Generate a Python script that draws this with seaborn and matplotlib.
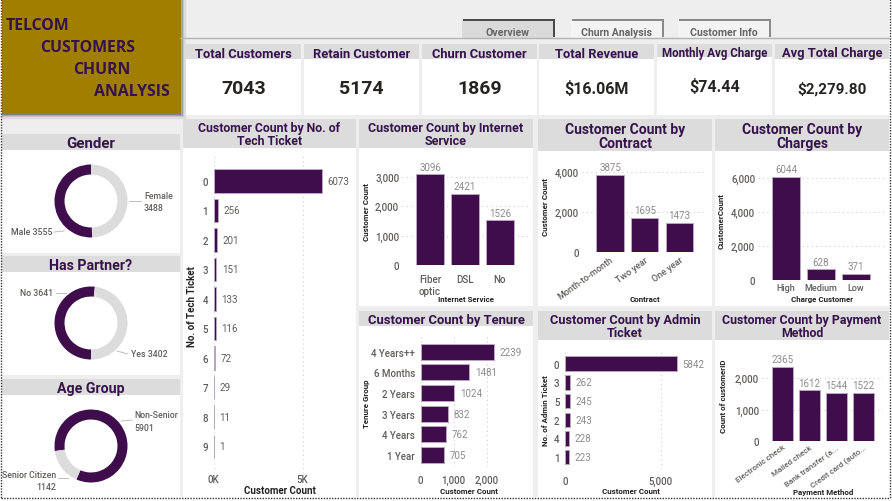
import matplotlib
matplotlib.use("Agg")
import matplotlib.pyplot as plt
import seaborn as sns
from matplotlib.patches import Rectangle

# data
kpi_titles = ["Total Customers", "Retain Customer", "Churn Customer", "Total Revenue", "Monthly Avg Charge", "Avg Total Charge"]
kpi_values = ["7043", "5174", "1869", "$16.06M", "$74.44", "$2,279.80"]
tabs = ["Overview", "Churn Analysis", "Customer Info"]

gender_labels = ["Female", "Male"]
gender_values = [3488, 3555]
partner_labels = ["No", "Yes"]
partner_values = [3641, 3402]
age_labels = ["Non-Senior", "Senior Citizen"]
age_values = [5901, 1142]

tech_tickets = ["0", "1", "2", "3", "4", "5", "6", "7", "8", "9"]
tech_counts = [6073, 256, 201, 151, 133, 116, 72, 29, 11, 1]
internet_types = ["Fiber\noptic", "DSL", "No"]
internet_counts = [3096, 2421, 1526]
contract_types = ["Month-to-month", "Two year", "One year"]
contract_counts = [3875, 1695, 1473]
charge_groups = ["High", "Medium", "Low"]
charge_counts = [6044, 628, 371]
tenure_groups = ["4 Years++", "6 Months", "2 Years", "3 Years", "4 Years", "1 Year"]
tenure_counts = [2239, 1481, 1024, 832, 762, 705]
admin_tickets = ["0", "3", "5", "2", "4", "1"]
admin_counts = [5842, 262, 245, 243, 228, 223]
payment_methods = ["Electronic check", "Mailed check", "Bank transfer (a...", "Credit card (auto..."]
payment_counts = [2365, 1612, 1544, 1522]

W, H = 892, 502
PURPLE = "#3F0D4C"
EDGE = "#B9A6BF"
HEADER = "#DCDCDC"
PAGE = "#EEEEEE"
TITLE = "#35124A"
TICK = "#605E5C"
VALUE = "#8C8C8C"
GRID = "#D0D0D0"
FONT = ["Roboto", "DejaVu Sans"]

sns.set_theme(style="white")
plt.rcParams["font.family"] = FONT

fig = plt.figure(figsize=(W / 100, H / 100), dpi=100, facecolor="white")
bg = fig.add_axes([0, 0, 1, 1], zorder=-1)
bg.set_xlim(0, W)
bg.set_ylim(H, 0)
bg.axis("off")


def box(x0, y0, x1, y1, color, **kw):
    bg.add_patch(Rectangle((x0, y0), x1 - x0, y1 - y0, color=color, lw=0, **kw))


def px_axes(x0, y0, x1, y1):
    ax = fig.add_axes([x0 / W, 1 - y1 / H, (x1 - x0) / W, (y1 - y0) / H])
    ax.patch.set_visible(False)
    return ax


def panel(x0, y0, x1, head_bottom, y1, title, size=10.2):
    box(x0, y0, x1, y1, "white")
    box(x0, y0, x1, head_bottom, HEADER)
    bg.text((x0 + x1) / 2, (y0 + head_bottom) / 2 + 1, title, ha="center", va="center",
            fontsize=size, fontweight="bold", color=TITLE, linespacing=1.0)


def clean(ax, tick_size=7):
    sns.despine(ax=ax, left=True, bottom=True)
    ax.tick_params(length=0, pad=2, labelsize=tick_size, labelcolor=TICK)
    for t in ax.get_xticklabels() + ax.get_yticklabels():
        t.set_fontweight("medium")


def vbars(cats, vals, x0, x1, c0, step, base, per_unit, ytop, ticks, xlab, ylab, xlab_pos, ylab_pos,
          rot=0, xpad=2, cat_size=7):
    ax = px_axes(x0, ytop, x1, base)
    sns.barplot(x=cats, y=vals, ax=ax, color=PURPLE, saturation=1, width=0.78, edgecolor=EDGE, linewidth=0.7)
    ax.set_xlim((x0 - c0) / step, (x1 - c0) / step)
    ax.set_ylim(0, (base - ytop) / per_unit)
    ax.set_yticks(ticks)
    ax.set_yticklabels([f"{t:,}" for t in ticks])
    ax.grid(axis="y", color=GRID, ls=(0, (1, 3)), lw=0.8)
    ax.set_axisbelow(True)
    clean(ax)
    ax.tick_params(axis="x", pad=xpad, labelsize=cat_size)
    ax.bar_label(ax.containers[0], padding=2, fontsize=7, color=VALUE)
    if rot:
        ax.set_xticks(range(len(cats)))
        ax.set_xticklabels(cats, rotation=rot, ha="right", rotation_mode="anchor", fontsize=cat_size)
    ax.set_xlabel(xlab, fontsize=5.7, fontweight="bold", color="#222222")
    ax.set_ylabel(ylab, fontsize=5.7, fontweight="bold", color="#222222")
    ax.xaxis.set_label_coords(*xlab_pos, transform=bg.transData)
    ax.yaxis.set_label_coords(*ylab_pos, transform=bg.transData)
    return ax


def hbars(cats, vals, x1, base, per_unit, c0, step, ytop, ybottom, ticks, ticklabs, xlab, ylab, xlab_pos, ylab_pos,
          lab_size=5.7, xpad=2, val_color=VALUE):
    ax = px_axes(base, ytop, x1, ybottom)
    sns.barplot(x=vals, y=cats, ax=ax, color=PURPLE, saturation=1, width=0.78, edgecolor=EDGE, linewidth=0.7, orient="h")
    ax.set_xlim(0, (x1 - base) / per_unit)
    ax.set_ylim((ybottom - c0) / step, (ytop - c0) / step)
    ax.set_xticks(ticks)
    ax.set_xticklabels(ticklabs)
    ax.grid(axis="x", color=GRID, ls=(0, (1, 3)), lw=0.8)
    ax.set_axisbelow(True)
    clean(ax)
    ax.tick_params(axis="y", pad=4)
    ax.tick_params(axis="x", pad=xpad)
    ax.bar_label(ax.containers[0], padding=4, fontsize=7, color=val_color)
    ax.set_xlabel(xlab, fontsize=lab_size, fontweight="bold", color="#222222")
    ax.set_ylabel(ylab, fontsize=lab_size, fontweight="bold", color="#222222")
    ax.xaxis.set_label_coords(*xlab_pos, transform=bg.transData)
    ax.yaxis.set_label_coords(*ylab_pos, transform=bg.transData)
    return ax


def donut(cx, cy, values, colors, start):
    r = 36.5
    ax = px_axes(cx - r, cy - r, cx + r, cy + r)
    ax.pie(values, colors=colors, startangle=start, counterclock=False, radius=1,
           wedgeprops={"width": 0.275, "linewidth": 0})
    ax.set_xlim(-1, 1)
    ax.set_ylim(-1, 1)


def note(x, y, text, ha="left", line=None):
    bg.text(x, y, text, fontsize=6.3, color=TICK, ha=ha, va="center", linespacing=1.45, fontweight="medium")
    if line:
        bg.plot(line[0], line[1], color="#BDBDBD", lw=0.7)


# page, top strip and logo
box(2, 0, 889, 498, PAGE)
bg.plot([180, 889], [38.5, 38.5], color="#B4B4B4", lw=1)
for i, a in enumerate([0.22, 0.16, 0.10, 0.05, 0.02]):
    box(2, 0, 181 + i * 1.6, 116 + i * 1.2, "black", alpha=a)
box(2, 0, 180.5, 115, "#A07F00")
logo_font = {"fontsize": 11.4, "fontweight": "bold", "color": TITLE, "va": "center", "family": "Open Sans"}
bg.text(6, 26.5, "TELCOM", **logo_font)
bg.text(40, 48.5, "CUSTOMERS", **logo_font)
bg.text(73, 70.5, "CHURN", **logo_font)
bg.text(94, 92, "ANALYSIS", **logo_font)

# tabs, shadow only on the top and right edges
tab_x = [(462, 553), (571, 662), (678, 769)]
for i, ((x0, x1), name) in enumerate(zip(tab_x, tabs)):
    box(x0 + 1, 20, x1 + 2, 38, "#4A4A4A" if i == 0 else "#8A8A8A")
    box(x0, 22, x1, 40, "#DADADA" if i == 0 else "#F3F3F3")
    bg.text((x0 + x1) / 2, 32.5, name, fontsize=7.6, fontweight="bold", color="#666666", ha="center", va="center")

# KPI cards
kpi_x = [(186, 301), (304, 419), (422, 537), (539, 654), (657, 772), (775, 889)]
kpi_head = [60, 60, 60, 60, 58, 60]
kpi_size = [14, 14, 14, 11.5, 11.5, 11]
for (x0, x1), head, name, value, size in zip(kpi_x, kpi_head, kpi_titles, kpi_values, kpi_size):
    box(x0, 45, x1, 116, "white")
    box(x0, 45, x1, head, HEADER)
    bg.text((x0 + x1) / 2, (45 + head) / 2 + 1.5, name, fontsize=9.3 if head == 60 else 8.3,
            fontweight="bold", color=TITLE, ha="center", va="center")
    bg.text((x0 + x1) / 2, 89.5 if head == 60 else 87.5, value, fontsize=size, fontweight="bold",
            color="#252423", ha="center", va="center")

# panels
panel(2, 135, 180, 151, 254, "Gender", 10.8)
panel(2, 257, 180, 273, 376, "Has Partner?")
panel(2, 380, 180, 396, 498, "Age Group")
panel(183, 120, 356, 149, 498, "Customer Count by No. of\nTech Ticket", 8.8)
panel(359, 120, 533, 149, 307, "Customer Count by Internet\nService", 9)
panel(538, 120, 712, 152, 307, "Customer Count by\nContract", 10)
panel(715, 120, 889, 152, 307, "Customer Count by\nCharges", 10)
panel(359, 312, 533, 327, 498, "Customer Count by Tenure", 9.4)
panel(538, 312, 712, 341, 498, "Customer Count by Admin\nTicket", 9.2)
panel(715, 312, 889, 341, 498, "Customer Count by Payment\nMethod", 8.9)

# donuts
donut(91, 202, gender_values, [HEADER, PURPLE], 90)
donut(91, 324, partner_values, [PURPLE, HEADER], -90)
donut(91, 447, age_values, [PURPLE, HEADER], -172)
note(144, 202.5, f"{gender_labels[0]}\n{gender_values[0]}", line=([129, 141], [202, 202]))
note(11, 233, f"{gender_labels[1]} {gender_values[1]}", line=([54, 64], [233, 232]))
note(20, 294, f"{partner_labels[0]} {partner_values[0]}", line=([56, 66], [294, 294]))
note(131, 355, f"{partner_labels[1]} {partner_values[1]}", line=([117, 128], [352, 355]))
note(134, 422, f"{age_labels[0]}\n{age_values[0]}", line=([121, 132], [422, 421]))
note(56, 476, f"{age_labels[1]}", ha="right", line=([58, 68], [479, 479]))
note(56, 488, f"{age_values[1]}", ha="right")

# bar charts
hbars(tech_tickets, tech_counts, 345, 213.5, 0.0178, 182, 29.5, 155, 474,
      [0, 5000], ["0K", "5K"], "Customer Count", "No. of Tech Ticket", (280, 486.5), (197, 307),
      lab_size=7, xpad=1, val_color=TICK)
vbars(internet_types, internet_counts, 402, 530, 430, 35, 266, 0.0293, 165, [0, 1000, 2000, 3000],
      "Internet Service", "Customer Count", (466, 296.5), (370, 212), xpad=6.5)
vbars(contract_types, contract_counts, 582, 705, 610, 34.8, 253, 0.0199, 165, [0, 2000, 4000],
      "Contract", "Customer Count", (645, 296), (549, 207), rot=36, cat_size=6.5)
vbars(charge_groups, charge_counts, 758, 885, 786, 35, 281, 0.017, 165, [0, 2000, 4000, 6000],
      "Charge Customer", "CustomerCount", (822, 296), (725, 221), cat_size=6.5)
hbars(tenure_groups, tenure_counts, 525, 420.7, 0.0329, 352.7, 20.66, 338, 468,
      [0, 1000, 2000], ["0", "1,000", "2,000"], "Customer Count", "Tenure Group", (469, 488), (370, 404), xpad=6)
hbars(admin_tickets, admin_counts, 705, 565, 0.0191, 364.7, 18.7, 352, 470,
      [0, 5000], ["0", "5,000"], "Customer Count", "No. of Admin Ticket", (631, 488), (549, 411), xpad=5)
vbars(payment_methods, payment_counts, 762, 883, 782.3, 27, 442, 0.0314, 355, [0, 1000, 2000],
      "Payment Method", "Count of customerID", (823, 489.5), (727, 396), rot=36, cat_size=5.8)

# dotted frame of the screenshot
bg.plot([1, 1], [0, 499], color="#333333", lw=1, ls=(0, (1, 1)))
bg.plot([1, 890], [499, 499], color="#333333", lw=1, ls=(0, (1, 1)))
bg.plot([890, 890], [0, 499], color="#333333", lw=1, ls=(0, (1, 1)))

fig.savefig("out.png", dpi=100)
